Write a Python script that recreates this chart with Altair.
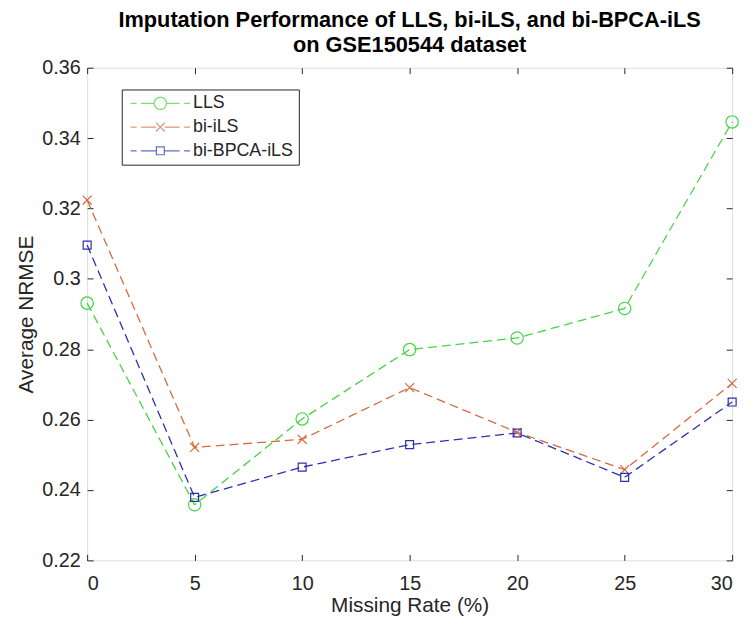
import altair as alt
import pandas as pd

# ---- data ----
missing_rate = [0, 5, 10, 15, 20, 25, 30]
lls = [0.2931, 0.2358, 0.2602, 0.2799, 0.2832, 0.2916, 0.3446]
bi_ils = [0.3224, 0.2521, 0.2544, 0.2691, 0.2564, 0.2458, 0.2703]
bi_bpca_ils = [0.3096, 0.2379, 0.2465, 0.2529, 0.2562, 0.2436, 0.2650]

methods = ["LLS", "bi-iLS", "bi-BPCA-iLS"]
colors = ["#44d444", "#d66a3c", "#2e2eb0"]
x_ticks = [0, 5, 10, 15, 20, 25, 30]
y_ticks = [0.22, 0.24, 0.26, 0.28, 0.30, 0.32, 0.34, 0.36]

rows = []
for m, vals in zip(methods, [lls, bi_ils, bi_bpca_ils]):
    for r, v in zip(missing_rate, vals):
        rows.append({"rate": r, "nrmse": v, "method": m})
df = pd.DataFrame(rows)

FONT = "Liberation Sans"
INK = "#262626"

# marker shapes (size 100 -> unit = 5 px)
circle = "M-1.25,0A1.25,1.25,0,1,1,1.25,0A1.25,1.25,0,1,1,-1.25,0Z"
xmark = "M-0.9,-0.9L0.9,0.9M-0.9,0.9L0.9,-0.9"
square = "M-0.8,-0.8L0.8,-0.8L0.8,0.8L-0.8,0.8Z"


def dashes(edge):
    return (f"M-6,0L-4.8,0M-3.9,0L-{edge},0M{edge},0L3.9,0M4.8,0L6,0")


legend_shapes = [dashes(1.25) + circle, dashes(0.9) + xmark, dashes(0.8) + square]

x_scale = alt.Scale(domain=[0, 30], nice=False, zero=False)
y_scale = alt.Scale(domain=[0.22, 0.36], nice=False, zero=False)
color_scale = alt.Scale(domain=methods, range=colors)

common_axis = dict(domain=False, grid=False, tickSize=6, offset=-6, tickColor=INK,
                   tickWidth=1, labelFont=FONT, labelFontSize=20, labelColor=INK,
                   titleFont=FONT, titleFontSize=21, titleColor=INK, titleFontWeight="normal")

x_bottom = alt.Axis(values=x_ticks, orient="bottom", labelPadding=13, titlePadding=2,
                    title="Missing Rate (%)", format="d", **common_axis)
y_left = alt.Axis(values=y_ticks, orient="left", labelPadding=7, titlePadding=5,
                  title="Average NRMSE", labelExpr="format(datum.value, '.2~f')", **common_axis)
x_top = alt.Axis(values=x_ticks, orient="top", labels=False, title=None,
                 domain=False, grid=False, tickSize=6, offset=-6, tickColor=INK)
y_right = alt.Axis(values=y_ticks, orient="right", labels=False, title=None,
                   domain=False, grid=False, tickSize=6, offset=-6, tickColor=INK)

base = alt.Chart(df)

lines = base.mark_line(strokeDash=[9, 5], strokeWidth=1.3, clip=False).encode(
    x=alt.X("rate:Q", scale=x_scale, axis=x_bottom),
    y=alt.Y("nrmse:Q", scale=y_scale, axis=y_left),
    color=alt.Color("method:N", scale=color_scale, legend=None),
    detail="method:N",
)

points = base.mark_point(filled=False, strokeWidth=1.2, size=100, opacity=1).encode(
    x=alt.X("rate:Q", scale=x_scale, axis=x_top),
    y=alt.Y("nrmse:Q", scale=y_scale, axis=y_right),
    color=alt.Color("method:N", scale=color_scale, legend=None),
    shape=alt.Shape("method:N", scale=alt.Scale(domain=methods, range=[circle, xmark, square]),
                    legend=None),
)

legend_props = dict(orient="none", legendX=35, legendY=22, title=None,
                    symbolSize=100, symbolStrokeWidth=1.2,
                    labelFont=FONT, labelFontSize=18, labelColor=INK,
                    strokeColor=INK, fillColor="white", padding=5,
                    rowPadding=6, symbolOffset=25, labelOffset=24)

legend_layer = base.transform_filter("false").mark_point(filled=False, strokeWidth=1.2, size=100).encode(
    x=alt.X("rate:Q", scale=x_scale, axis=None),
    y=alt.Y("nrmse:Q", scale=y_scale, axis=None),
    color=alt.Color("method:N", scale=color_scale, legend=alt.Legend(**legend_props)),
    shape=alt.Shape("method:N", scale=alt.Scale(domain=methods, range=legend_shapes),
                    legend=alt.Legend(**legend_props)),
)

chart = alt.layer(lines, points, legend_layer).resolve_scale(
    color="independent", shape="independent"
).resolve_axis(x="independent", y="independent").properties(
    width=652, height=498,
    title=alt.Title(["Imputation Performance of LLS, bi-iLS, and bi-BPCA-iLS", "on GSE150544 dataset"],
                    font=FONT, fontSize=22, fontWeight="bold", color="black",
                    anchor="middle", lineHeight=25.5, offset=1),
    autosize=alt.AutoSizeParams(type="none"),
    padding={"left": 80, "top": 57, "right": 14, "bottom": 67},
).configure_view(stroke=INK, strokeWidth=1).configure(background="white")

chart.save("out.html", embed_options={"renderer": "svg", "actions": False})
